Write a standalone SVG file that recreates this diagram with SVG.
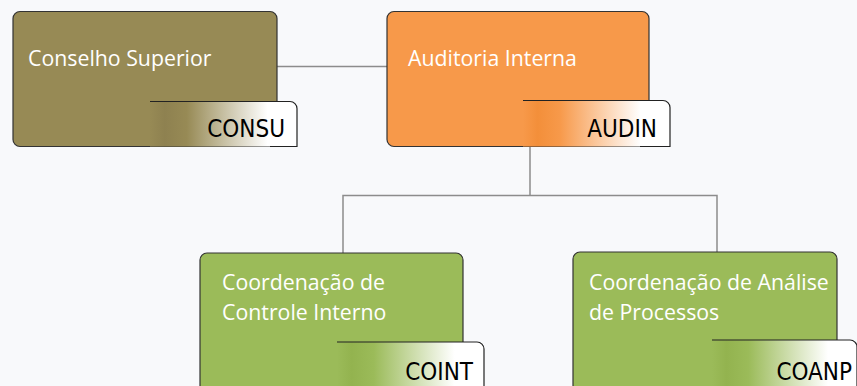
<svg xmlns="http://www.w3.org/2000/svg" width="857" height="386" viewBox="0 0 857 386">
<defs>
<linearGradient id="gOlive" x1="0" y1="0" x2="1" y2="0">
<stop offset="0" stop-color="#978A55"/><stop offset="0.1" stop-color="#8E8150"/><stop offset="0.25" stop-color="#978A55"/><stop offset="0.8" stop-color="#ffffff"/><stop offset="1" stop-color="#ffffff"/>
</linearGradient>
<linearGradient id="gOrange" x1="0" y1="0" x2="1" y2="0">
<stop offset="0" stop-color="#F7994A"/><stop offset="0.1" stop-color="#F38F3A"/><stop offset="0.25" stop-color="#F7994A"/><stop offset="0.8" stop-color="#ffffff"/><stop offset="1" stop-color="#ffffff"/>
</linearGradient>
<linearGradient id="gGreen" x1="0" y1="0" x2="1" y2="0">
<stop offset="0" stop-color="#9BBB59"/><stop offset="0.1" stop-color="#93B34F"/><stop offset="0.25" stop-color="#9BBB59"/><stop offset="0.8" stop-color="#ffffff"/><stop offset="1" stop-color="#ffffff"/>
</linearGradient>
</defs>
<style>
.box{stroke:#333;stroke-width:1.2}
.tagline{stroke:#222;stroke-width:1.2;fill:none}
.t{font-family:"Open Sans","DejaVu Sans",sans-serif;font-size:21.3px;fill:#fff}
.c{font-family:"DejaVu Sans Condensed","DejaVu Sans",sans-serif;font-stretch:condensed;font-size:24px;fill:#000;text-anchor:end}
.ln{stroke:#8c8c8c;stroke-width:1.5;fill:none}
</style>
<rect width="857" height="386" fill="#F8F9FB"/>
<g id="connectors">
<path class="ln" d="M277 66.5H387"/>
<path class="ln" d="M530 146V195.5M343 254V195.5H717V252"/>
</g>
<g id="consu">
<rect class="box" x="13" y="11.5" width="264" height="135" rx="7" fill="#978A55"/>
<text class="t" x="28" y="66">Conselho Superior</text>
<path d="M150 101.5H290a7 7 0 0 1 7 7V146.5H150Z" fill="url(#gOlive)"/>
<path class="tagline" d="M150 101.5H290a7 7 0 0 1 7 7V146.5H270"/>
<text class="c" x="285" y="137">CONSU</text>
</g>
<g id="audin">
<rect class="box" x="387" y="11.5" width="262" height="135" rx="7" fill="#F7994A"/>
<text class="t" x="408" y="66">Auditoria Interna</text>
<path d="M523 100.5H663a7 7 0 0 1 7 7V146.5H523Z" fill="url(#gOrange)"/>
<path class="tagline" d="M523 100.5H663a7 7 0 0 1 7 7V146.5H640"/>
<text class="c" x="657" y="137">AUDIN</text>
</g>
<g id="coint">
<rect class="box" x="200" y="253" width="263" height="140" rx="7" fill="#9BBB59"/>
<text class="t" x="222" y="290">Coordenação de</text>
<text class="t" x="222" y="320">Controle Interno</text>
<path d="M337 342H477a7 7 0 0 1 7 7V390H337Z" fill="url(#gGreen)"/>
<path class="tagline" d="M337 342H477a7 7 0 0 1 7 7V390"/>
<text class="c" x="473" y="380">COINT</text>
</g>
<g id="coanp">
<rect class="box" x="573" y="252" width="264" height="140" rx="7" fill="#9BBB59"/>
<text class="t" x="589" y="290">Coordenação de Análise</text>
<text class="t" x="589" y="320">de Processos</text>
<path d="M712 340H850a7 7 0 0 1 7 7V390H712Z" fill="url(#gGreen)"/>
<path class="tagline" d="M712 340H850a7 7 0 0 1 7 7V390"/>
<text class="c" x="852" y="380">COANP</text>
</g>
</svg>
